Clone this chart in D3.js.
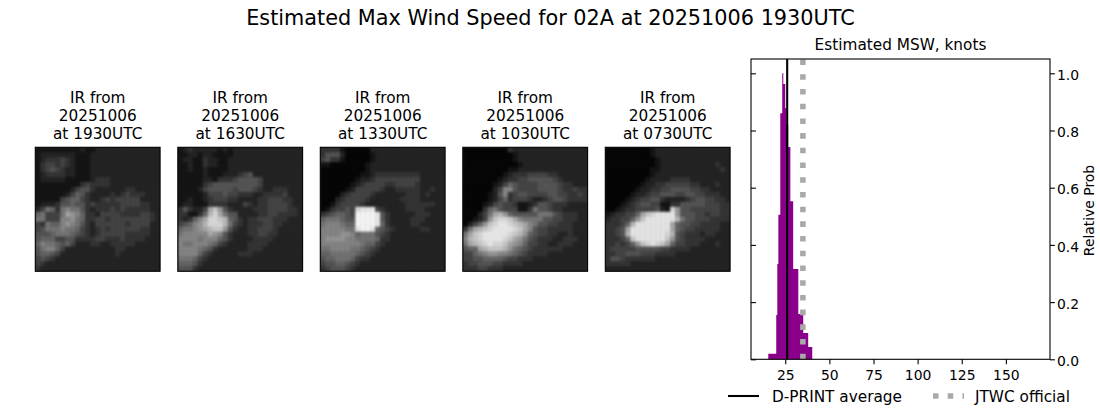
<!DOCTYPE html>
<html>
<head>
  <meta charset="utf-8">
  <title>Estimated Max Wind Speed for 02A</title>
  <script src="https://d3js.org/d3.v7.min.js"></script>
  <style>
    body { margin: 0; background: white; }
    svg { display: block; }
    text { font-family: "DejaVu Sans", sans-serif; fill: black; }
    .axis path, .axis line { stroke: black; stroke-width: 1.1px; }
    .axis text { font-size: 13.9px; font-family: "DejaVu Sans", sans-serif; }
  </style>
</head>
<body>
<div id="output"></div>

<script type="text/javascript">
  var figTitle = "Estimated Max Wind Speed for 02A at 20251006 1930UTC";
  var histTitle = "Estimated MSW, knots";
  var yLabel = "Relative Prob";
  var legendLabels = ["D-PRINT average", "JTWC official"];

  var panelTimes = ["1930UTC", "1630UTC", "1330UTC", "1030UTC", "0730UTC"];
  var panelDate = "20251006";

  // histogram bins (knots, relative probability)
  var binEdges = [15.4, 19.9, 20.5, 21.1, 22.2, 23.3, 23.9, 25.0, 25.6, 26.7, 27.9, 29.5, 32.4, 35.2, 38.0, 40.3];
  var binProbs = [0.019, 0.155, 0.333, 0.505, 0.86, 1.0, 0.963, 0.878, 0.82, 0.742, 0.553, 0.316, 0.158, 0.092, 0.043, 0];

  var dprintAverage = 26.1;
  var jtwcOfficial = 35;

  var xTicks = [25, 50, 75, 100, 125, 150];
  var yTicks = [0, 0.2, 0.4, 0.6, 0.8, 1.0];

  // coarse brightness of the IR pictures, one hex digit per cell
  var ir1930 = [
    "1111111112112222222222222",
    "1222222211122222222222222",
    "1233343211122222222222222",
    "1344343211122222222222222",
    "1345432211122222222222222",
    "1233332211122222222222222",
    "1222221111123332222222222",
    "1111111113433332222222222",
    "1111111245532222223322222",
    "1111112465322223234333222",
    "1111145664322343444442222",
    "1222355655343333344443322",
    "2476378775323334343333322",
    "674447a986332444433334432",
    "7744488976334434444444432",
    "4376689875324444443444422",
    "4577787764323434444443322",
    "5556777654323444443333322",
    "5666445533334433343333222",
    "6877656422233223333322222",
    "5788642222222222332222222",
    "5665422222222222322222222",
    "4543222222222222222222222",
    "4322222222222222222222222",
    "3222222222222222222222222"
  ];
  var ir1630 = [
    "1232222212122222222222222",
    "1122122111122222222222222",
    "1221132211222222222222222",
    "1121132211222222222222222",
    "1121121111222222222222222",
    "1111121112223452222222222",
    "1111122133345555422222222",
    "1111134555555555422222222",
    "1111245555545554322333222",
    "1111124445443332233334222",
    "1121123444332222334443322",
    "1221113333222432334444322",
    "353224ac95322223334444332",
    "331136bda7552222334433332",
    "32368addcb653233444333222",
    "45689bdddb743233344332222",
    "67789abcc9532233444322222",
    "788888a985322233443322222",
    "8888788865322223333222222",
    "8778887643222233332222222",
    "8888765322222233322222222",
    "8888643222223332222222222",
    "7776432222222222222222222",
    "6665322222222222222222222",
    "5553222222222222222222222"
  ];
  var ir1330 = [
    "3333100000222222222222222",
    "3555200000122222222222222",
    "4533100000122222222222222",
    "1100000001222222222222222",
    "0000000001222222222222222",
    "0000000011233333333322222",
    "0000000122344444444422222",
    "0000001234444334444322222",
    "0000012444443223333322322",
    "0000234444322222233323222",
    "0002344443222222333322222",
    "0013444432222222233333322",
    "0134454deee43222233332222",
    "3456654ffffe5322222333222",
    "6777655ffffe5322223332222",
    "7888766ffffe6322223322222",
    "8888877effe65432222233222",
    "8888998677754322222222222",
    "8999988777763322222222222",
    "8888888876643222222222222",
    "7788887765432222222222222",
    "6677777654322222222222222",
    "5667776433222222222222222",
    "4556654322222222222222222",
    "3455543222222222222222222"
  ];
  var ir1030 = [
    "0000000003222222222222222",
    "0000000000122222222222222",
    "0000000000122222222222222",
    "0000000000012222222222222",
    "0000000001122222222222222",
    "0000000012333444433222222",
    "0000000123344555554322222",
    "0000001246544445555433222",
    "0000002488544445555433433",
    "0000012583455444455443343",
    "0000012463444322345543333",
    "0000124544311235543332222",
    "0000367544411375543322222",
    "000247ab96555557775433322",
    "001249cddca87777554433322",
    "02469cdeedcba875544333222",
    "37abcdeeeedca854433333222",
    "7acdeeeeedcb9654433223222",
    "8bcdeeeedca97543332233322",
    "7abcdeddca986443322333222",
    "566abcccb9765433333322222",
    "4467899887654333322222222",
    "4455666654433322222222222",
    "3445554433332222222222222",
    "3334433322222222222222222"
  ];
  var ir0730 = [
    "0000000001222222222222222",
    "0000000001222222222222222",
    "0000000000122222222222222",
    "0000000000122222222222322",
    "0000000001122222222222232",
    "0000000001222222222222222",
    "0000000012222333322222222",
    "0000000122334444433222322",
    "0000001223344555544332222",
    "0000012234455544554433322",
    "0000123445532222345544332",
    "0001234554411335555544433",
    "0012334444521d95544444433",
    "1233446acdeeee95554434433",
    "2334469ceeeeeeb7554443333",
    "33346beeeeeeea65544333322",
    "3345aeeeeeeeea65443333322",
    "3345beeeeeeedb54333233222",
    "33346ceeeeeec954333322222",
    "3343469cdedca644333222322",
    "3444445555544333322222222",
    "3344555444333322222222222",
    "3554333333222222222222222",
    "3333322222222222222222222",
    "2222222222222222222222222"
  ];
  var irGrids = [ir1930, ir1630, ir1330, ir1030, ir0730];

  var w = 1100;
  var h = 409;

  var svg = d3.select("#output").append("svg")
          .attr("width", w)
          .attr("height", h);

  svg.append("text")
          .attr("x", 550.5)
          .attr("y", 25)
          .attr("text-anchor", "middle")
          .style("font-size", "20.8px")
          .text(figTitle);

  var defs = svg.append("defs");
  var blur = defs.append("filter")
          .attr("id", "soft")
          .attr("x", "-5%").attr("y", "-5%")
          .attr("width", "110%").attr("height", "110%")
          .attr("color-interpolation-filters", "sRGB");
  blur.append("feGaussianBlur").attr("stdDeviation", 1.3);

  // IR panels
  var panelX = d3.scaleBand()
          .domain(panelTimes)
          .range([35.3, 730.1])
          .paddingInner(0.1242);
  var panelTop = 147.3;
  var panelSize = panelX.bandwidth();
  var panelHeight = 124;

  var cellIdx = d3.range(25);
  var cell = d3.scaleBand().domain(cellIdx).range([0, panelSize]);
  var cellY = d3.scaleBand().domain(cellIdx).range([0, panelHeight]);
  var grey = d3.scaleLinear()
          .domain([0, 2, 15])
          .range(["#050505", "#232323", "#f4f4f4"]);

  panelTimes.forEach(function(t, p) {
    var g = svg.append("g")
            .attr("transform", "translate(" + panelX(t) + "," + panelTop + ")");

    defs.append("clipPath").attr("id", "clip" + p)
            .append("rect").attr("width", panelSize).attr("height", panelHeight);

    var inner = g.append("g").attr("clip-path", "url(#clip" + p + ")");
    inner.append("rect").attr("width", panelSize).attr("height", panelHeight).attr("fill", "#232323");

    var cells = inner.append("g").attr("filter", "url(#soft)");
    irGrids[p].forEach(function(row, r) {
      cells.selectAll(".r" + r)
              .data(cellIdx)
              .enter()
              .append("rect")
              .attr("class", "r" + r)
              .attr("x", function(c) { return cell(c); })
              .attr("y", cellY(r))
              .attr("width", cell.bandwidth() + 0.4)
              .attr("height", cellY.bandwidth() + 0.4)
              .attr("fill", function(c) { return grey(parseInt(row.charAt(c), 16)); });
    });

    g.append("rect")
            .attr("width", panelSize)
            .attr("height", panelHeight)
            .attr("fill", "none")
            .attr("stroke", "black")
            .attr("stroke-width", 1.1);

    var lines = ["IR from", panelDate, "at " + t];
    g.selectAll(".ptitle")
            .data(lines)
            .enter()
            .append("text")
            .attr("class", "ptitle")
            .attr("x", panelSize / 2)
            .attr("y", function(d, i) { return -44 + i * 17.6; })
            .attr("text-anchor", "middle")
            .style("font-size", "15.3px")
            .text(function(d) { return d; });
  });

  // histogram
  var chartMargin = {top: 59, right: 50, bottom: 50, left: 751};
  var x = d3.scaleLinear()
          .domain([5.6, 175])
          .range([chartMargin.left, w - chartMargin.right]);
  var y = d3.scaleLinear()
          .domain([0, 1.05])
          .range([h - chartMargin.bottom + 0.3, chartMargin.top]);

  var chart = svg.append("g");

  // one stepped shape, so neighbouring bins leave no gap
  var histArea = d3.area()
          .curve(d3.curveStepAfter)
          .x(function(d) { return x(d); })
          .y0(y(0))
          .y1(function(d, i) { return y(binProbs[i]); });

  chart.append("path")
          .datum(binEdges)
          .attr("d", histArea)
          .attr("fill", "#8b008b");

  chart.append("line")
          .attr("x1", x(dprintAverage)).attr("x2", x(dprintAverage))
          .attr("y1", y(0)).attr("y2", y(1.05))
          .attr("stroke", "black")
          .attr("stroke-width", 2.08);

  chart.append("line")
          .attr("x1", x(jtwcOfficial)).attr("x2", x(jtwcOfficial))
          .attr("y1", y(0)).attr("y2", y(1.05))
          .attr("stroke", "#a9a9a9")
          .attr("stroke-width", 5.55)
          .attr("stroke-dasharray", "5.55 9.16");

  chart.append("rect")
          .attr("x", x.range()[0])
          .attr("y", y.range()[1])
          .attr("width", x.range()[1] - x.range()[0])
          .attr("height", y.range()[0] - y.range()[1])
          .attr("fill", "none")
          .attr("stroke", "black")
          .attr("stroke-width", 1.1);

  var xAxis = d3.axisBottom(x).tickValues(xTicks).tickSize(4.9).tickPadding(5.5);
  var yAxis = d3.axisRight(y).tickValues(yTicks).tickSize(4.9).tickPadding(2).tickFormat(d3.format(".1f"));
  var yInner = d3.axisLeft(y).tickValues(yTicks).tickSize(-4.9).tickFormat("");

  chart.append("g").attr("class", "axis")
          .attr("transform", "translate(0," + y(0) + ")")
          .call(xAxis)
          .select(".domain").remove();
  var yG = chart.append("g").attr("class", "axis")
          .attr("transform", "translate(" + x.range()[1] + ",0)")
          .call(yAxis);
  yG.select(".domain").remove();
  yG.selectAll("text").attr("dy", "0.44em");
  chart.append("g").attr("class", "axis")
          .attr("transform", "translate(" + x.range()[0] + ",0)")
          .call(yInner)
          .select(".domain").remove();

  chart.append("text")
          .attr("x", (x.range()[0] + x.range()[1]) / 2)
          .attr("y", 50)
          .attr("text-anchor", "middle")
          .style("font-size", "15.3px")
          .text(histTitle);

  chart.append("text")
          .attr("transform", "translate(1094,210.5) rotate(-90)")
          .attr("text-anchor", "middle")
          .style("font-size", "13.9px")
          .text(yLabel);

  // legend
  var legendY = 396;
  svg.append("line")
          .attr("x1", 728).attr("x2", 759)
          .attr("y1", legendY).attr("y2", legendY)
          .attr("stroke", "black")
          .attr("stroke-width", 2.08);
  svg.append("text")
          .attr("x", 772).attr("y", legendY + 5.5)
          .style("font-size", "15.3px")
          .text(legendLabels[0]);
  svg.append("line")
          .attr("x1", 933).attr("x2", 964)
          .attr("y1", legendY).attr("y2", legendY)
          .attr("stroke", "#a9a9a9")
          .attr("stroke-width", 5.55)
          .attr("stroke-dasharray", "5.55 9.16");
  svg.append("text")
          .attr("x", 975).attr("y", legendY + 5.5)
          .style("font-size", "15.3px")
          .text(legendLabels[1]);
</script>

</body>
</html>
